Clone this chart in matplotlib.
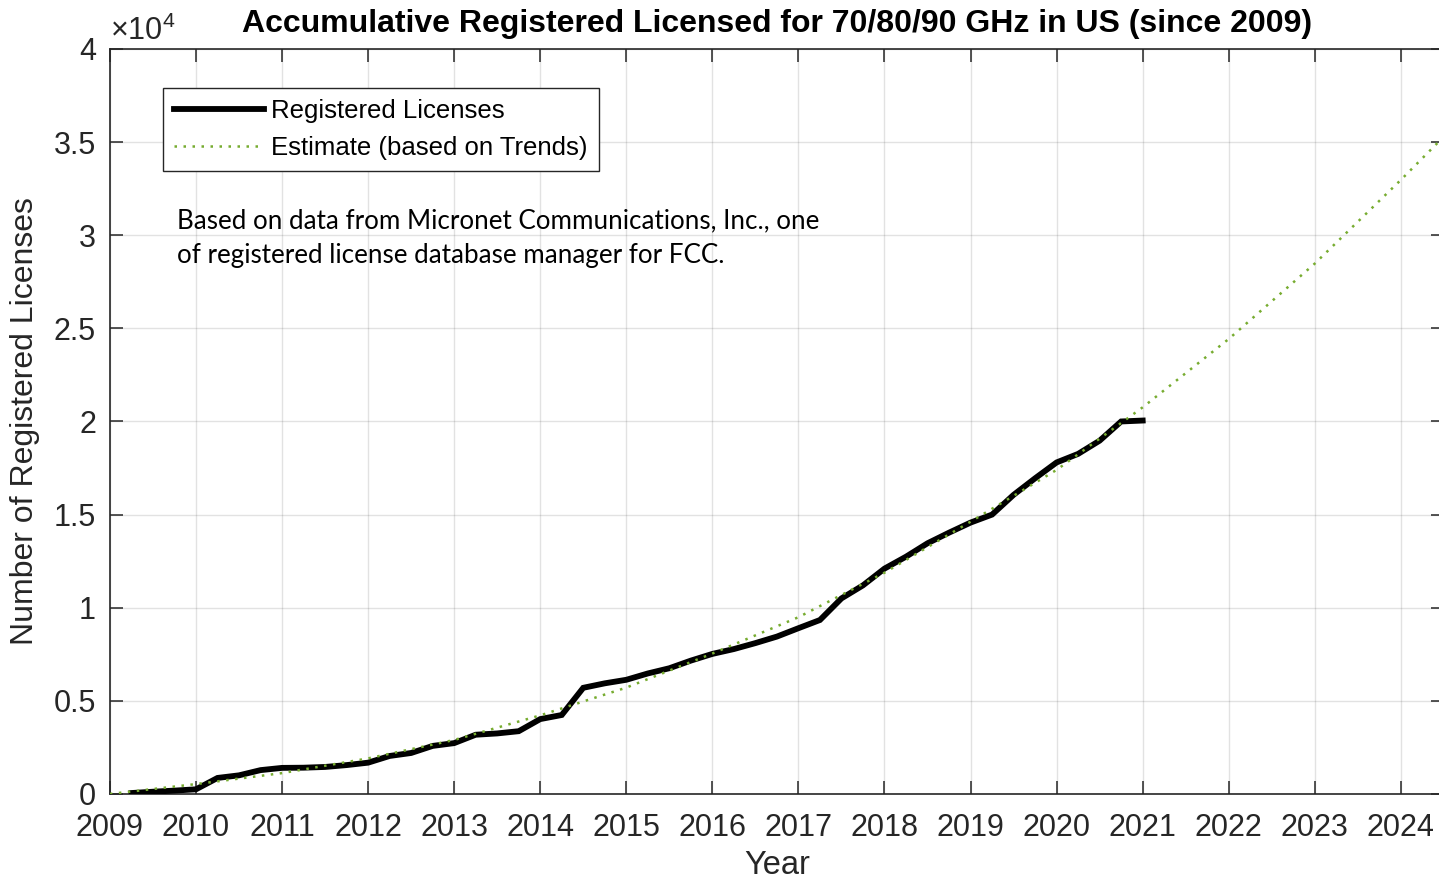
import matplotlib
matplotlib.use("Agg")
import matplotlib.pyplot as plt
from matplotlib.ticker import FuncFormatter, MultipleLocator

# Registered licenses (quarterly)
reg_years = [2009.25, 2009.5, 2009.75, 2010, 2010.25, 2010.5, 2010.75, 2011,
             2011.25, 2011.5, 2011.75, 2012, 2012.25, 2012.5, 2012.75, 2013,
             2013.25, 2013.5, 2013.75, 2014, 2014.25, 2014.5, 2014.75, 2015,
             2015.25, 2015.5, 2015.75, 2016, 2016.25, 2016.5, 2016.75, 2017,
             2017.25, 2017.5, 2017.75, 2018, 2018.25, 2018.5, 2018.75, 2019,
             2019.25, 2019.5, 2019.75, 2020, 2020.25, 2020.5, 2020.75, 2021]
reg_counts = [50, 120, 180, 250, 860, 1000, 1280, 1400,
              1410, 1450, 1550, 1680, 2040, 2200, 2580, 2730,
              3180, 3250, 3370, 4020, 4240, 5700, 5940, 6130,
              6470, 6750, 7160, 7520, 7780, 8100, 8450, 8900,
              9340, 10500, 11200, 12100, 12740, 13460, 14030, 14570,
              15000, 16060, 16950, 17800, 18260, 18970, 20000, 20050]

# Trend estimate (yearly)
est_years = [2009, 2010, 2011, 2012, 2013, 2014, 2015, 2016, 2017,
             2018, 2019, 2020, 2021, 2022, 2023, 2024, 2024.5]
est_counts = [0, 530, 1120, 1910, 2900, 4220, 5710, 7540, 9490,
              11880, 14620, 17400, 20760, 24430, 28480, 32970, 35300]

x_ticks = list(range(2009, 2025))

plt.rcParams['font.family'] = ['Liberation Sans', 'DejaVu Sans']
plt.rcParams['mathtext.fontset'] = 'custom'
plt.rcParams['mathtext.rm'] = 'Liberation Sans'

spine_c = '#262626'

fig = plt.figure(figsize=(14.39, 8.81), dpi=100)
ax = fig.add_axes([0.0764, 0.0988, 0.927, 0.8456])

ax.plot(reg_years, reg_counts, color='black', lw=4.2,
        solid_joinstyle='miter', label='Registered Licenses', zorder=3)
ax.plot(est_years, est_counts, color='#77AC30', lw=1.8,
        linestyle=(0, (1, 2.6)), label='Estimate (based on Trends)', zorder=4)

ax.set_xlim(2009, 2024.5)
ax.set_ylim(0, 40000)
ax.set_xticks(x_ticks)
ax.yaxis.set_major_locator(MultipleLocator(5000))
ax.yaxis.set_major_formatter(FuncFormatter(lambda v, p: '%g' % (v / 1e4)))

ax.tick_params(axis='both', direction='in', length=9.5, width=1.1,
               color=spine_c, labelcolor=spine_c, labelsize=22,
               top=True, right=True)
ax.tick_params(axis='x', pad=14)
ax.tick_params(axis='y', pad=10)
for s in ax.spines.values():
    s.set_color(spine_c)
    s.set_linewidth(1.2)

ax.grid(True, color='#262626', alpha=0.13, lw=1.0)
ax.set_axisbelow(True)

ax.text(0.0, 1.002, r'$\times10^{4}$', transform=ax.transAxes,
        fontsize=22, color=spine_c, ha='left', va='bottom')

ax.set_title('Accumulative Registered Licensed for 70/80/90 GHz in US (since 2009)',
             fontsize=23, fontweight='bold', pad=12)
ax.set_xlabel('Year', fontsize=23.5, color=spine_c, labelpad=5)
ax.set_ylabel('Number of Registered Licenses', fontsize=23, color=spine_c, labelpad=10)

leg = ax.legend(loc='upper left', bbox_to_anchor=(0.0397, 0.9477),
                borderaxespad=0, fontsize=18.5, fancybox=False,
                edgecolor=spine_c, framealpha=1, handlelength=3.5,
                handletextpad=0.3, borderpad=0.42, labelspacing=0.52)
leg.get_frame().set_linewidth(1.0)

ax.text(0.0502, 0.786,
        'Based on data from Micronet Communications, Inc., one\n'
        'of registered license database manager for FCC.',
        transform=ax.transAxes, fontsize=18.7, family='Lato',
        ha='left', va='top', linespacing=1.5)

fig.savefig('out.png', dpi=100)
